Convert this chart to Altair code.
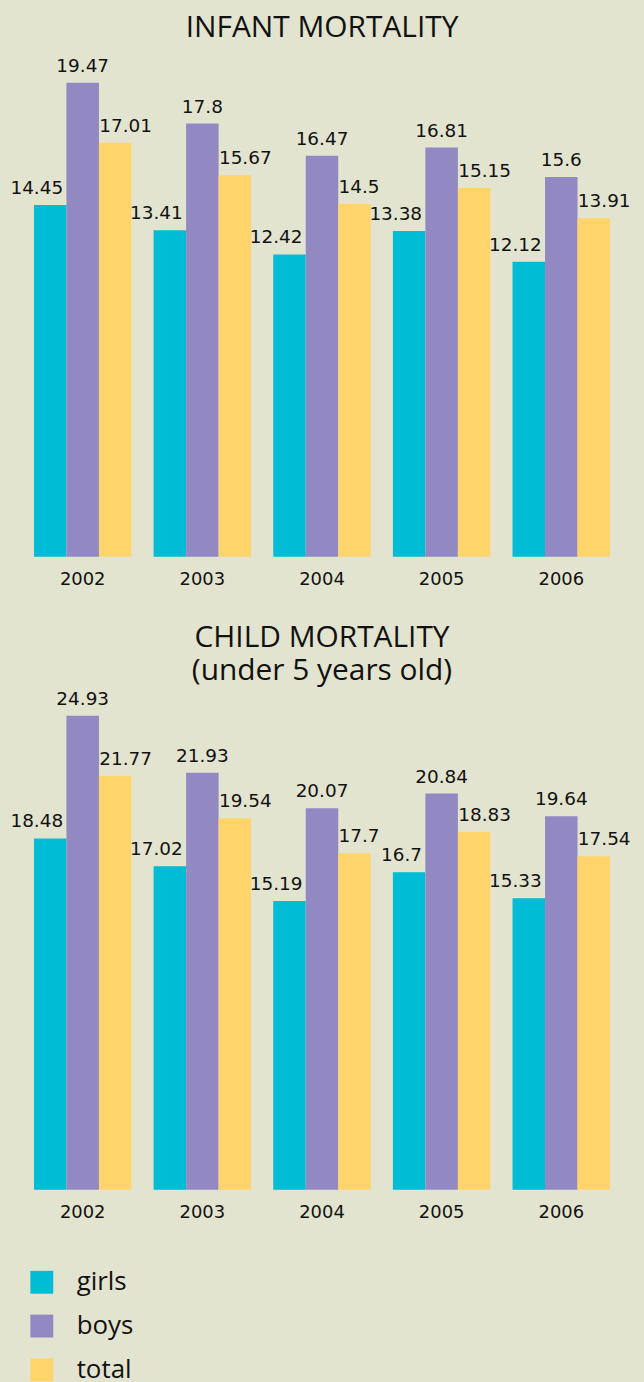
import altair as alt
import pandas as pd

years = ["2002", "2003", "2004", "2005", "2006"]
groups = ["girls", "boys", "total"]
colors = ["#00bcd4", "#9389c2", "#ffd56b"]

infant_girls = [14.45, 13.41, 12.42, 13.38, 12.12]
infant_boys = [19.47, 17.8, 16.47, 16.81, 15.6]
infant_total = [17.01, 15.67, 14.5, 15.15, 13.91]

child_girls = [18.48, 17.02, 15.19, 16.7, 15.33]
child_boys = [24.93, 21.93, 20.07, 20.84, 19.64]
child_total = [21.77, 19.54, 17.7, 18.83, 17.54]

BG = "#e3e4cf"
TITLE_FONT = "Open Sans"
NUM_FONT = "DejaVu Sans"

LEGEND = alt.Legend(
    title=None,
    orient="none",
    legendX=6,
    legendY=1205,
    direction="vertical",
    symbolType="square",
    symbolSize=529,
    symbolStrokeWidth=0,
    symbolOpacity=1,
    labelFont=TITLE_FONT,
    labelFontSize=26,
    labelColor="#111111",
    labelOffset=22,
    rowPadding=18,
)


def make_df(g, b, t):
    rows = []
    for i, y in enumerate(years):
        for grp, v in zip(groups, (g[i], b[i], t[i])):
            rows.append({"year": y, "group": grp, "value": v, "label": str(v)})
    return pd.DataFrame(rows)


def panel(df, title, ymax, px_per_unit, title_offset):
    height = ymax * px_per_unit
    base = alt.Chart(df).encode(
        x=alt.X(
            "year:N",
            sort=years,
            title=None,
            scale=alt.Scale(paddingInner=0.185, paddingOuter=0.0925),
            axis=alt.Axis(
                labelAngle=0,
                domain=False,
                ticks=False,
                labelFont=NUM_FONT,
                labelFontSize=18,
                labelColor="#111111",
                labelPadding=14,
            ),
        ),
        xOffset=alt.XOffset(
            "group:N",
            sort=groups,
            scale=alt.Scale(domain=groups, paddingInner=0, paddingOuter=0),
        ),
        y=alt.Y(
            "value:Q",
            scale=alt.Scale(domain=[0, ymax], nice=False, zero=True),
            axis=None,
        ),
    )
    bars = base.mark_bar(opacity=1).encode(
        color=alt.Color(
            "group:N",
            sort=groups,
            scale=alt.Scale(domain=groups, range=colors),
            legend=LEGEND,
        )
    )
    layers = [bars]
    for grp, dx, align in (("girls", 13, "right"), ("boys", 0, "center"), ("total", -16, "left")):
        layers.append(
            base.transform_filter(alt.datum.group == grp)
            .mark_text(
                align=align,
                baseline="bottom",
                dx=dx,
                dy=-7,
                font=NUM_FONT,
                fontSize=18.5,
                color="#111111",
            )
            .encode(text="label:N")
        )
    return alt.layer(*layers).properties(
        width=601,
        height=height,
        title=alt.TitleParams(
            text=title,
            font=TITLE_FONT,
            fontSize=30,
            fontWeight="normal",
            color="#111111",
            anchor="middle",
            lineHeight=33,
            offset=title_offset,
        ),
    )


infant = panel(make_df(infant_girls, infant_boys, infant_total), "INFANT MORTALITY", 20.0, 24.45, 14)
child = panel(
    make_df(child_girls, child_boys, child_total),
    ["CHILD MORTALITY", "(under 5 years old)"],
    25.5,
    19.1,
    4,
)

chart = (
    alt.vconcat(infant, child, spacing=34)
    .properties(background=BG, padding={"left": 10, "top": 9, "right": 13, "bottom": 6})
    .configure_view(stroke=None)
)

chart.save("out.html", embed_options={"renderer": "svg", "actions": False})
